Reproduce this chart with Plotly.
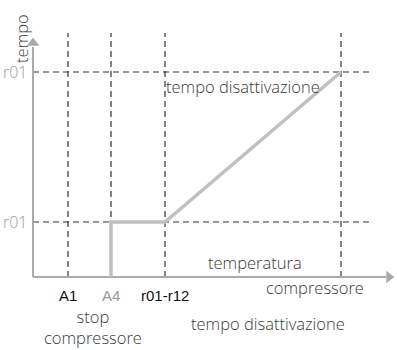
import plotly.graph_objects as go

# Threshold positions on the temperature axis (arbitrary units)
x_thresholds = [3.5, 7.8, 13.2, 30.8]
x_tick_labels = ["A1", "A4", "r01-r12"]
x_tick_colors = ["#111111", "#9a9a9a", "#111111"]

# Time levels on the vertical axis
y_levels = [5.5, 20.5]
y_level_labels = ["r01", "r01"]

# Compressor stop time as a function of temperature
curve_x = [7.8, 7.8, 13.2, 30.8]
curve_y = [0.0, 5.5, 5.5, 20.5]

x_axis_end = 35.3
y_axis_end = 23.0
grid_top = 24.4
grid_right = 34.0

GRID = "#333333"
AXIS = "#aaaaaa"
CURVE = "#c0c0c0"
TEXT = "#3a3a3a"

fig = go.Figure()

# dashed guide lines
for xv in x_thresholds:
    fig.add_trace(go.Scatter(x=[xv, xv], y=[0, grid_top], mode="lines",
                             line=dict(color=GRID, width=1.2, dash="6px,4px"),
                             hoverinfo="skip", showlegend=False))
for yv in y_levels:
    fig.add_trace(go.Scatter(x=[0, grid_right], y=[yv, yv], mode="lines",
                             line=dict(color=GRID, width=1.2, dash="6px,4px"),
                             hoverinfo="skip", showlegend=False))

# axes with arrowheads
fig.add_trace(go.Scatter(x=[0, x_axis_end], y=[0, 0], mode="lines",
                         line=dict(color=AXIS, width=2), hoverinfo="skip", showlegend=False))
fig.add_trace(go.Scatter(x=[0, 0], y=[0, y_axis_end], mode="lines",
                         line=dict(color=AXIS, width=2), hoverinfo="skip", showlegend=False))
fig.add_trace(go.Scatter(x=[x_axis_end + 0.3], y=[0], mode="markers",
                         marker=dict(symbol="triangle-right", size=11, color=AXIS),
                         hoverinfo="skip", showlegend=False))
fig.add_trace(go.Scatter(x=[0], y=[y_axis_end + 0.4], mode="markers",
                         marker=dict(symbol="triangle-up", size=11, color=AXIS),
                         hoverinfo="skip", showlegend=False))

# the curve
fig.add_trace(go.Scatter(x=curve_x, y=curve_y, mode="lines",
                         line=dict(color=CURVE, width=3.5), hoverinfo="skip",
                         showlegend=False))

annotations = []
for xv, lab, col in zip(x_thresholds, x_tick_labels, x_tick_colors):
    annotations.append(dict(x=xv, y=-1.8, text=lab, showarrow=False,
                            font=dict(family="Liberation Sans", size=15, color=col)))
for yv, lab in zip(y_levels, y_level_labels):
    annotations.append(dict(x=-0.3, y=yv, text=lab, showarrow=False, xanchor="right",
                            font=dict(family="Open Sans", size=16, color="#9a9a9a",
                                      weight=300)))

light = dict(family="Open Sans", size=16.5, color=TEXT, weight=300)
annotations += [
    dict(x=-1.2, y=23.8, text="tempo", textangle=-90, showarrow=False, font=light),
    dict(x=13.1, y=19.1, text="tempo disattivazione", xanchor="left", showarrow=False, font=light),
    dict(x=22.2, y=1.5, text="temperatura", showarrow=False, font=light),
    dict(x=28.2, y=-1.0, text="compressore", showarrow=False, font=light),
    dict(x=23.5, y=-4.6, text="tempo disattivazione", showarrow=False, font=light),
    dict(x=6.0, y=-7.25, text="stop<br>compressore", showarrow=False, yanchor="bottom",
         borderpad=0, font=light),
]

fig.update_layout(
    width=397, height=350,
    margin=dict(l=0, r=0, t=0, b=0),
    paper_bgcolor="white", plot_bgcolor="white",
    xaxis=dict(range=[-3.3, 36.4], visible=False, fixedrange=True),
    yaxis=dict(range=[-7.3, 27.7], visible=False, fixedrange=True),
    annotations=annotations,
)

fig.write_html("out.html")
